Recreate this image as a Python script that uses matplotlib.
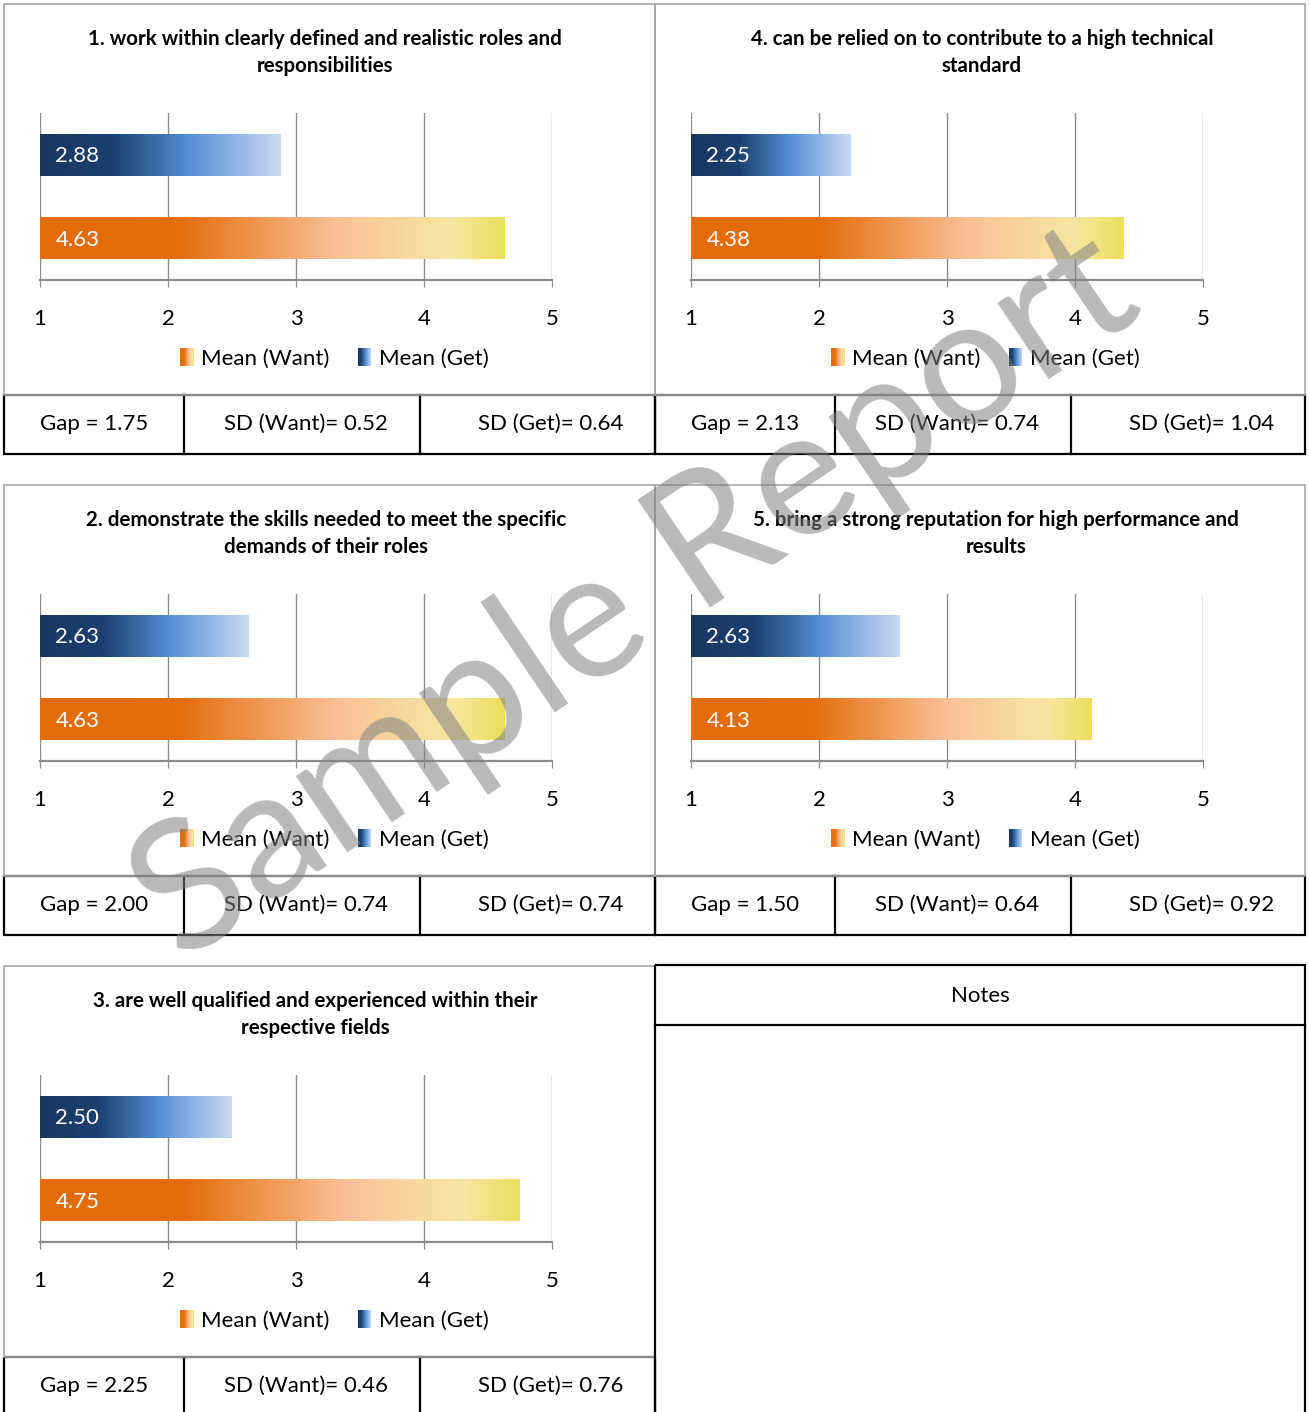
import numpy as np
import matplotlib
matplotlib.use("Agg")
import matplotlib.pyplot as plt
from matplotlib.colors import LinearSegmentedColormap
from matplotlib.patches import Rectangle
from matplotlib.legend_handler import HandlerBase

plt.rcParams["font.family"] = ["Lato", "DejaVu Sans"]

# ---- survey results (one entry per question) ----
questions = [
    "1. work within clearly defined and realistic roles and\nresponsibilities",
    "2. demonstrate the skills needed to meet the specific\ndemands of their roles",
    "3. are well qualified and experienced within their\nrespective fields",
    "4. can be relied on to contribute to a high technical\nstandard",
    "5. bring a strong reputation for high performance and\nresults",
]
mean_want = [4.63, 4.63, 4.75, 4.38, 4.13]
mean_get = [2.88, 2.63, 2.50, 2.25, 2.63]
sd_want = [0.52, 0.74, 0.46, 0.74, 0.64]
sd_get = [0.64, 0.74, 0.76, 1.04, 0.92]
series_labels = ["Mean (Want)", "Mean (Get)"]
x_ticks = [1, 2, 3, 4, 5]

# ---- page layout (pixels) ----
W, H = 1309, 1412
fig = plt.figure(figsize=(W / 100, H / 100), dpi=100)

# (left, top, panel width, title centre offset) for questions 1..5
panels = [
    (4, 4, 651, 321),
    (4, 485, 651, 322),
    (4, 966, 651, 311),
    (655, 4, 650, 327),
    (655, 485, 650, 341),
]

want_cmap = LinearSegmentedColormap.from_list(
    "want", [(0.0, "#E36C09"), (0.30, "#E46D0C"), (0.64, "#F9C196"),
             (0.88, "#F6E6A3"), (1.0, "#EBDF5C")])
get_cmap = LinearSegmentedColormap.from_list(
    "get", [(0.0, "#17375E"), (0.30, "#1C416F"), (0.62, "#558ED5"),
            (1.0, "#C8DAF2")])


class GradientHandler(HandlerBase):
    def __init__(self, cmap, steps=14):
        super().__init__()
        self.cmap = cmap
        self.steps = steps

    def create_artists(self, legend, orig_handle, xdescent, ydescent,
                       width, height, fontsize, trans):
        out = []
        w = width / self.steps
        for i in range(self.steps):
            r = Rectangle((-xdescent + i * w, -ydescent - 1), w * 1.05,
                          height + 2,
                          facecolor=self.cmap((i + 0.5) / self.steps),
                          edgecolor="none", transform=trans)
            out.append(r)
        return out


def fx(x):
    return x / W


def fy(y):
    return 1 - y / H


# full-page overlay for frames and texts
ov = fig.add_axes([0, 0, 1, 1])
ov.set_xlim(0, W)
ov.set_ylim(H, 0)
ov.axis("off")

GRAY = "#8c8c8c"
BODY = 16

for q, (x0, y0, pw, tcx) in enumerate(panels):
    # table row below the chart
    ov.add_patch(Rectangle((x0, y0 + 391), pw, 59, facecolor="none",
                           edgecolor="black", lw=1.6, zorder=1))
    for cx in (180, 416):
        ov.plot([x0 + cx, x0 + cx], [y0 + 391, y0 + 450], color="black",
                lw=1.6, zorder=1)
    # chart frame
    ov.add_patch(Rectangle((x0, y0), pw, 391, facecolor="none",
                           edgecolor="#a6a6a6", lw=1.2, zorder=2))

    gap = mean_want[q] - mean_get[q]
    ov.text(x0 + 36, y0 + 420, f"Gap = {gap:.2f}", fontsize=BODY,
            ha="left", va="center")
    ov.text(x0 + 302, y0 + 420, f"SD (Want)= {sd_want[q]:.2f}",
            fontsize=BODY, ha="center", va="center")
    ov.text(x0 + 547, y0 + 420, f"SD (Get)= {sd_get[q]:.2f}",
            fontsize=BODY, ha="center", va="center")

    # title
    ov.text(x0 + tcx, y0 + 48.5, questions[q], fontsize=14.8,
            fontweight="bold", ha="center", va="center", linespacing=1.45)

    # bar chart
    L, R, T, B = x0 + 36, x0 + 548, y0 + 109, y0 + 276
    ax = fig.add_axes([fx(L), fy(B), (R - L) / W, (B - T) / H])
    ax.set_facecolor("none")
    values = [mean_want[q], mean_get[q]]
    cmaps = [want_cmap, get_cmap]
    bars = ax.barh([0, 1], [v - 1 for v in values], left=1, height=0.5,
                   facecolor="none", edgecolor="none", zorder=2)
    grad = np.linspace(0, 1, 256)[None, :]
    for bar, cm, v in zip(bars, cmaps, values):
        bx, by = bar.get_x(), bar.get_y()
        ax.imshow(grad, cmap=cm, extent=(bx, bx + bar.get_width(),
                                          by, by + bar.get_height()),
                  aspect="auto", interpolation="bilinear", zorder=2)
        ax.annotate(f"{v:.2f}", xy=(bx, by + bar.get_height() / 2),
                    xytext=(11, -1.2), textcoords="offset points",
                    color="white", fontsize=BODY, ha="left", va="center",
                    zorder=3)
    ax.set_xlim(1, 5)
    ax.set_ylim(-0.5, 1.5)
    ax.set_xticks(x_ticks)
    ax.set_xticklabels([str(t) for t in x_ticks])
    ax.set_yticks([])
    ax.grid(axis="x", color=GRAY, lw=1.0)
    ax.set_axisbelow(True)
    for s in ("top", "right", "left"):
        ax.spines[s].set_visible(False)
    ax.spines["bottom"].set_color(GRAY)
    ax.spines["bottom"].set_linewidth(1.6)
    ax.tick_params(axis="x", direction="out", length=5, width=0.9,
                   color=GRAY, labelsize=BODY, pad=16)

    h_want = Rectangle((0, 0), 1, 1)
    h_get = Rectangle((0, 0), 1, 1)
    ax.legend([h_want, h_get], series_labels,
              handler_map={h_want: GradientHandler(want_cmap),
                           h_get: GradientHandler(get_cmap)},
              loc="center", bbox_to_anchor=(0.575, -0.472), ncol=2,
              frameon=False, fontsize=BODY, handlelength=0.6,
              handleheight=0.65, handletextpad=0.35, columnspacing=1.25)

# notes box
ov.add_patch(Rectangle((655, 965), 650, 460, facecolor="none",
                       edgecolor="black", lw=1.6, zorder=3))
ov.plot([655, 1305], [1025, 1025], color="black", lw=1.6, zorder=3)
ov.text(980, 996, "Notes", fontsize=BODY, ha="center", va="center")

# watermark
fig.text(fx(636), fy(596), "Sample Report", fontsize=130, rotation=34,
         rotation_mode="anchor", ha="center", va="center", color="#808080",
         alpha=0.55, zorder=100)

fig.savefig("out.png", dpi=100)
